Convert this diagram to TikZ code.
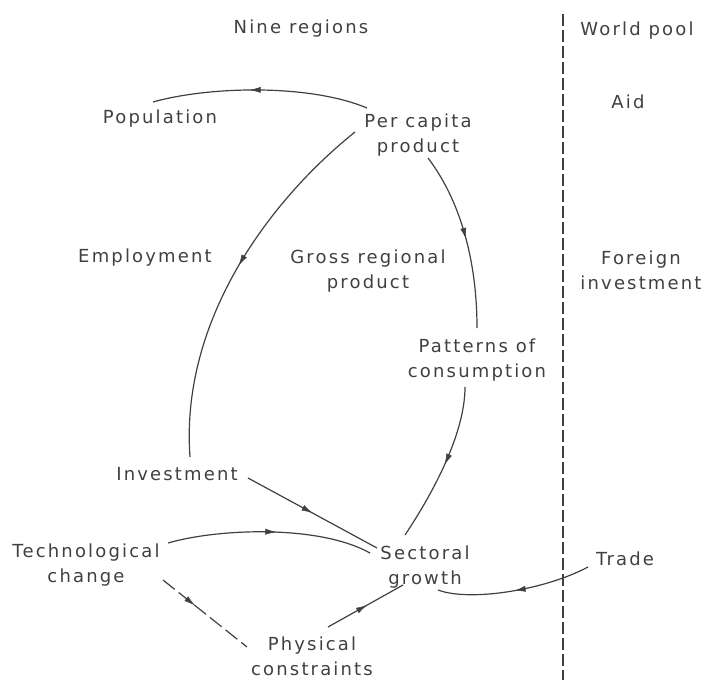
\documentclass[tikz,border=0pt]{standalone}
\usepackage{fontspec}
\setmainfont{DejaVu Sans}[LetterSpace=12]
\usetikzlibrary{arrows.meta,decorations.markings,calc}
\definecolor{ink}{gray}{0.25}
\tikzset{
  lbl/.style={font=\fontsize{18}{25}\selectfont, text=ink, inner sep=1pt, align=center},
  one/.style={lbl, text height=13.5pt, text depth=4.5pt},
  link/.style={draw=ink, line width=1.2pt},
  midarrow/.style={postaction={decorate}, decoration={markings,
      mark=at position #1 with {\arrow[ink, line width=0.5pt]{Latex[length=11pt,width=6pt]}}}},
  sepline/.style={draw=ink, line width=1.1pt, dash pattern=on 12pt off 4pt},
}
\begin{document}
\begin{tikzpicture}[x=1pt,y=-1pt]
\useasboundingbox (0,0) rectangle (711,680);
% separator
\draw[sepline] (563,14) -- (563,680);
% headings
\node[one] (nine)  at (301,28.5) {Nine regions};
\node[one] (world) at (637,30.5) {World pool};
\node[one] (aid)   at (628,103.5) {Aid};
\node[lbl] (fi)    at (641,270.5) {Foreign\\investment};
% nodes
\node[one] (pop)   at (160,119) {Population};
\node[lbl] (pc)    at (418,135.5) {Per capita\\product};
\node[one] (emp)   at (145,257.5) {Employment};
\node[lbl] (grp)   at (368,271.5) {Gross regional\\product};
\node[lbl] (pat)   at (477,360.5) {Patterns of\\consumption};
\node[one] (inv)   at (177,475.5) {Investment};
\node[lbl] (tech)  at (86,565) {Technological\\change};
\node[lbl] (sect)  at (425,567) {Sectoral\\growth};
\node[lbl] (phys)  at (312,656) {Physical\\constraints};
\node[one] (trade) at (625,560.5) {Trade};
% connectors
\draw[link, midarrow=0.55] ($(pc)+(-51,-27.5)$) .. controls +(-57,-24) and +(57,-16) .. ($(pop)+(-7,-17)$);
\draw[link, midarrow=0.47] ($(pc)+(-63,-3.5)$) .. controls +(-85,68) and +(-10,-137) .. ($(inv)+(13,-18.5)$);
\draw[link, midarrow=0.5] ($(pc)+(10,22.5)$) .. controls +(32,42) and +(0,-68) .. ($(pat)+(0,-32.5)$);
\draw[link, midarrow=0.5] ($(pat)+(-12,26.5)$) .. controls +(0,45) and +(30,-45) .. ($(sect)+(-20,-32)$);
\draw[link, midarrow=0.5] ($(inv)+(71,2.5)$) -- ($(sect)+(-48,-19)$);
\draw[link, midarrow=0.53] ($(tech)+(82,-22)$) .. controls +(52,-15) and +(-50,-28) .. ($(sect)+(-55,-14)$);
\draw[link, dash pattern=on 15pt off 5pt, midarrow=0.38] ($(tech)+(77,15)$) -- ($(phys)+(-65,-9)$);
\draw[link, midarrow=0.52] ($(phys)+(16,-29)$) -- ($(sect)+(-22,18)$);
\draw[link, midarrow=0.5] ($(trade)+(-37,6.5)$) .. controls +(-43,23) and +(32,12) .. ($(sect)+(13,23)$);
\end{tikzpicture}
\end{document}
